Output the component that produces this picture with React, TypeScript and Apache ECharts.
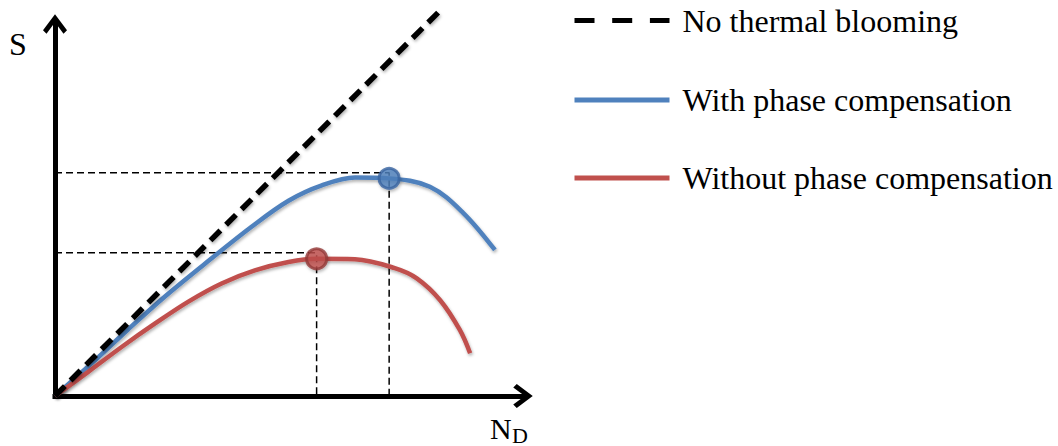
import React, { useEffect, useRef } from "react";
import * as echarts from "echarts";

// ---- data (schematic units: N_D on x, S on y) ----
const diagX = [0, 8.2];
const diagY = [0, 8.26];

const blueX = [0, 0.78, 1.55, 2.35, 3.21, 4.2, 4.99, 5.7, 6.41, 7.14, 8.01, 8.72, 9.4];
const blueY = [0, 0.7, 1.42, 2.14, 2.85, 3.64, 4.2, 4.53, 4.7, 4.68, 4.5, 3.94, 3.14];

const redX = [0, 0.71, 1.43, 2.14, 2.85, 3.56, 4.27, 4.99, 5.59, 6.41, 7.26, 7.73, 8.23, 8.65, 8.87];
const redY = [0, 0.52, 1.06, 1.56, 2.03, 2.42, 2.7, 2.88, 2.95, 2.94, 2.75, 2.53, 2.06, 1.42, 0.92];

const bluePeak = [7.14, 4.68];
const redPeak = [5.59, 2.95];
const blueGuideLevel = 4.8;
const redGuideLevel = 3.08;

const legendNames = ["No thermal blooming", "With phase compensation", "Without phase compensation"];
const axisNames = { y: "S", x: "N", xSub: "D" };

const X_MAX = 10;
const Y_MAX = 8;

const BLUE = "#4F81BD";
const RED = "#C0504D";
const SERIF = '"Liberation Serif", "Times New Roman", serif';

const shadow = {
  shadowColor: "rgba(0,0,0,0.3)",
  shadowBlur: 3,
  shadowOffsetX: 1,
  shadowOffsetY: 2,
};

const chevron = "path://M12,0 L24,16 L20.5,19.5 L12,8 L3.5,19.5 L0,16 Z";

// legend rows: icon centre y and text offset below the icon
const legendRows = [
  { iconY: 14.5, textShift: 9, lineStyle: { type: [20, 17.7], width: 5, color: "#000" } },
  { iconY: 94, textShift: 5, lineStyle: { width: 5, color: BLUE } },
  { iconY: 172, textShift: 2, lineStyle: { width: 5, color: RED } },
];

export default function App() {
  const ref = useRef<HTMLDivElement>(null);

  useEffect(() => {
    if (!ref.current) return;
    const chart = echarts.init(ref.current, undefined, { renderer: "svg" });

    const zip = (xs: number[], ys: number[]) => xs.map((x, i) => [x, ys[i]]);
    const guide = (peak: number[], level: number) => [
      [0, level],
      [peak[0], level],
      [peak[0], 0],
    ];

    const ITEM_H = 30;
    const legends = legendNames.map((name, i) => ({
      orient: "vertical",
      left: 567,
      top: legendRows[i].iconY - ITEM_H / 2,
      itemWidth: 95,
      itemHeight: ITEM_H,
      selectedMode: false,
      itemStyle: { opacity: 0 },
      textStyle: {
        fontFamily: SERIF,
        fontSize: 32,
        color: "#000",
        padding: [legendRows[i].textShift * 2, 0, 0, 8],
      },
      data: [{ name, lineStyle: legendRows[i].lineStyle, itemStyle: { opacity: 0 } }],
    }));

    const axisCommon = {
      type: "value",
      axisLine: {
        show: true,
        symbol: ["none", chevron],
        symbolSize: [24, 20],
        lineStyle: { color: "#000", width: 5, cap: "square" },
      },
      axisTick: { show: false },
      axisLabel: { show: false },
      splitLine: { show: false },
    };

    chart.setOption({
      animation: false,
      backgroundColor: "#ffffff",
      grid: { left: 55, top: 24, width: 468, height: 372 },
      xAxis: { ...axisCommon, min: 0, max: X_MAX },
      yAxis: { ...axisCommon, min: 0, max: Y_MAX },
      legend: legends,
      series: [
        {
          type: "line",
          name: "guide-blue",
          data: guide(bluePeak, blueGuideLevel),
          symbol: "none",
          lineStyle: { color: "#000", width: 1.5, type: [7, 4] },
          z: 1,
          silent: true,
        },
        {
          type: "line",
          name: "guide-red",
          data: guide(redPeak, redGuideLevel),
          symbol: "none",
          lineStyle: { color: "#000", width: 1.5, type: [7, 4] },
          z: 1,
          silent: true,
        },
        {
          type: "line",
          name: legendNames[1],
          data: zip(blueX, blueY),
          smooth: 0.35,
          symbol: "none",
          clip: false,
          color: BLUE,
          lineStyle: { color: BLUE, width: 4.5, ...shadow },
          z: 2,
        },
        {
          type: "line",
          name: legendNames[2],
          data: zip(redX, redY),
          smooth: 0.35,
          symbol: "none",
          clip: false,
          color: RED,
          lineStyle: { color: RED, width: 4.5, ...shadow },
          z: 2,
        },
        {
          type: "line",
          name: legendNames[0],
          data: zip(diagX, diagY),
          symbol: "none",
          clip: false,
          color: "#000",
          lineStyle: { color: "#000", width: 5.5, type: [14, 8], ...shadow },
          z: 3,
        },
        {
          type: "scatter",
          name: "peak-blue",
          data: [bluePeak],
          symbolSize: 20,
          itemStyle: { color: BLUE, borderColor: "#3A64A0", borderWidth: 3, ...shadow },
          z: 4,
        },
        {
          type: "scatter",
          name: "peak-red",
          data: [redPeak],
          symbolSize: 20,
          itemStyle: { color: RED, borderColor: "#933A38", borderWidth: 3, ...shadow },
          z: 4,
        },
      ],
      graphic: [
        {
          type: "text",
          x: 18,
          y: 44,
          style: {
            text: axisNames.y,
            fontFamily: SERIF,
            fontSize: 32,
            fill: "#000",
            align: "center",
            verticalAlign: "middle",
          },
        },
        {
          type: "text",
          x: 490,
          y: 428,
          style: {
            text: axisNames.x,
            fontFamily: SERIF,
            fontSize: 30,
            fill: "#000",
            align: "left",
            verticalAlign: "middle",
          },
        },
        {
          type: "text",
          x: 512,
          y: 435,
          style: {
            text: axisNames.xSub,
            fontFamily: SERIF,
            fontSize: 22,
            fill: "#000",
            align: "left",
            verticalAlign: "middle",
          },
        },
      ],
    });

    return () => chart.dispose();
  }, []);

  return (
    <div
      ref={ref}
      style={{ position: "fixed", left: 0, top: 0, width: 1058, height: 446 }}
    />
  );
}
